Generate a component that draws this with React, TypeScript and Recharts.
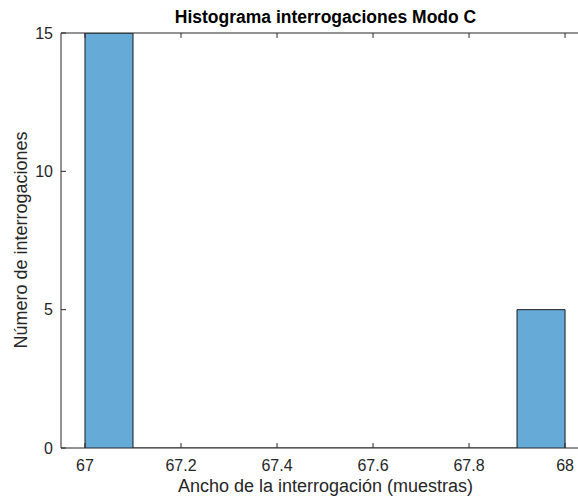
import React from 'react';
import { ComposedChart, XAxis, YAxis, Area, ReferenceLine } from 'recharts';

const binEdges = [67, 67.1, 67.2, 67.3, 67.4, 67.5, 67.6, 67.7, 67.8, 67.9, 68];
const binCounts = [15, 0, 0, 0, 0, 0, 0, 0, 0, 5];
const xTicks = [67, 67.2, 67.4, 67.6, 67.8, 68];
const yTicks = [0, 5, 10, 15];
// visible part of the x-limits (the right side of the figure is cropped)
const xDomain: [number, number] = [66.95, 68.027];
const yDomain: [number, number] = [0, 15];
const title = 'Histograma interrogaciones Modo C';
const xLabel = 'Ancho de la interrogación (muestras)';
const yLabel = 'Número de interrogaciones';

// histogram outline built from the bins (step-after path)
const outline = [
  { x: binEdges[0], count: 0 },
  ...binCounts.map((count, i) => ({ x: binEdges[i], count })),
  { x: binEdges[binEdges.length - 1], count: 0 },
];

const FONT = '"Liberation Sans", Arial, Helvetica, sans-serif';
const AX = '#262626';
const FILL = '#66AAD7';
const TOP_TICK = 0.18; // tick length in y units (~5px)

export default function App() {
  return (
    <div style={{ position: 'absolute', left: 0, top: 0, width: 578, height: 499, overflow: 'hidden', background: '#fff', fontFamily: FONT }}>
      <ComposedChart width={578} height={499} data={outline} margin={{ top: 33, right: 0, bottom: 0, left: 0 }}>
        <XAxis
          dataKey="x"
          type="number"
          domain={xDomain}
          allowDataOverflow
          ticks={xTicks}
          interval={0}
          height={51}
          tickSize={-5}
          tickMargin={17}
          axisLine={{ stroke: AX, strokeWidth: 1 }}
          tickLine={{ stroke: AX, strokeWidth: 1 }}
          tick={{ fill: AX, fontSize: 16, fontFamily: FONT }}
        />
        <YAxis
          type="number"
          domain={yDomain}
          allowDataOverflow
          ticks={yTicks}
          interval={0}
          width={61}
          tickSize={-5}
          tickMargin={13}
          axisLine={{ stroke: AX, strokeWidth: 1 }}
          tickLine={{ stroke: AX, strokeWidth: 1 }}
          tick={{ fill: AX, fontSize: 16, fontFamily: FONT }}
        />
        <Area
          type="stepAfter"
          dataKey="count"
          stroke="#1a1a1a"
          strokeWidth={1}
          fill={FILL}
          fillOpacity={1}
          dot={false}
          activeDot={false}
          isAnimationActive={false}
        />
        <ReferenceLine y={yDomain[1]} stroke={AX} strokeWidth={1} ifOverflow="visible" />
        {xTicks.map((t) => (
          <ReferenceLine
            key={t}
            segment={[{ x: t, y: yDomain[1] }, { x: t, y: yDomain[1] - TOP_TICK }]}
            stroke={AX}
            strokeWidth={1}
            ifOverflow="visible"
          />
        ))}
      </ComposedChart>
      <div
        style={{
          position: 'absolute', left: 125.5, width: 400, top: 6, textAlign: 'center',
          fontSize: 17.5, fontWeight: 'bold', color: '#000', lineHeight: '22px', whiteSpace: 'nowrap',
        }}
      >
        {title}
      </div>
      <div
        style={{
          position: 'absolute', left: 125.5, width: 400, top: 475, textAlign: 'center',
          fontSize: 18, color: AX, lineHeight: '22px', whiteSpace: 'nowrap',
        }}
      >
        {xLabel}
      </div>
      <div
        style={{
          position: 'absolute', left: 21 - 150, top: 239.5 - 11, width: 300, height: 22, textAlign: 'center',
          fontSize: 18, color: AX, lineHeight: '22px', whiteSpace: 'nowrap', transform: 'rotate(-90deg)',
        }}
      >
        {yLabel}
      </div>
    </div>
  );
}
